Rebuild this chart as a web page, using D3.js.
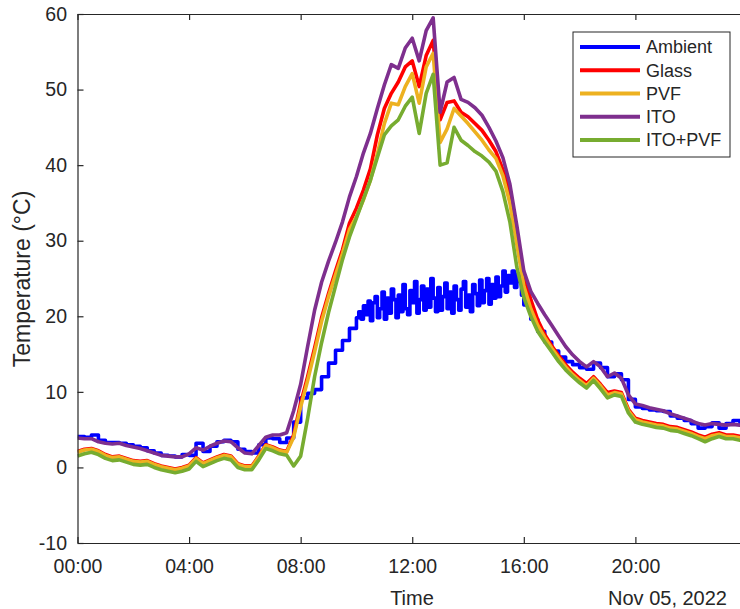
<!DOCTYPE html>
<html>
<head>
<meta charset="utf-8">
<script src="https://cdn.jsdelivr.net/npm/d3@7"></script>
<style>
  body { margin: 0; background: #fff; overflow: hidden; }
  text { font-family: "Liberation Sans", Arial, Helvetica, sans-serif; fill: #262626; }
</style>
</head>
<body>
<div id="chart"></div>
<script>
// time grid: hours after midnight, Nov 05 2022 (15 min steps)
const hours = d3.range(0, 97).map(i => i / 4);
// ambient logger was sampled faster around noon (5 min between 10:00 and 16:00)
const ambientHours = d3.range(0, 40).map(i => i / 4)
    .concat(d3.range(120, 192).map(i => i / 12))
    .concat(d3.range(64, 97).map(i => i / 4));

// temperatures (°C)
const ambient = [
    4.1, 4.0, 4.3, 3.6, 3.3, 3.3, 3.2, 3.0, 2.8, 2.6, 2.2, 1.9, 1.6, 1.5, 1.4, 1.7,
    1.6, 3.2, 2.1, 2.8, 3.4, 3.6, 3.4, 2.4, 2.1, 1.9, 3.0, 3.9, 3.8, 3.3, 3.9,
    6.0, 9.2, 9.8, 10.3, 12.0, 13.8, 15.5, 16.8, 18.4,
    // 10:00 - 15:55
    19.8, 20.6, 19.6, 21.4, 20.2, 22.0, 19.4, 21.8, 22.6, 19.8, 21.0, 23.2,
    19.6, 22.4, 20.4, 23.6, 22.2, 19.8, 22.8, 20.6, 24.2, 21.0, 20.2, 23.4,
    21.8, 24.6, 20.4, 22.2, 24.0, 20.8, 23.6, 21.2, 25.0, 22.4, 20.6, 23.8,
    20.8, 22.6, 24.4, 21.0, 23.2, 20.4, 24.0, 22.2, 20.8, 23.6, 24.6, 21.2,
    22.8, 20.6, 24.2, 23.0, 21.4, 24.8, 21.8, 23.4, 25.0, 21.6, 24.2, 22.4,
    25.2, 22.6, 24.0, 26.0, 23.2, 25.4, 24.4, 26.0, 23.8, 25.6, 24.6, 22.8,
    // 16:00 - 24:00
    21.5, 19.6, 18.0, 16.6, 15.4, 14.6, 14.0, 13.6, 13.2, 13.0, 13.8, 13.2, 12.0,
    12.4, 11.6, 9.0, 8.0, 7.8, 7.6, 7.5, 7.4, 6.8, 6.5, 6.2, 5.8, 5.2, 5.4, 5.9,
    5.2, 5.8, 6.2, 5.6, 5.6
];
const glass = [
    2.1, 2.4, 2.5, 2.2, 1.7, 1.4, 1.5, 1.2, 0.9, 0.8, 0.9, 0.5, 0.2, 0.0, -0.2, 0.0,
    0.3, 1.3, 0.6, 1.0, 1.4, 1.7, 1.5, 0.5, 0.2, 0.2, 1.5, 3.0, 2.7, 2.3, 2.1,
    4.3, 8.5, 12.0, 15.8, 19.8, 23.0, 26.0, 28.8, 32.3, 34.3, 36.7, 39.5, 44.0, 47.5,
    49.5, 51.0, 53.0, 53.8, 50.4, 54.5, 56.5, 46.0, 48.3, 48.5, 47.0, 46.4, 45.5,
    44.6, 43.3, 41.8, 39.4, 36.5, 30.5,
    25.5, 22.2, 19.5, 17.6, 16.1, 14.8, 13.6, 12.6, 11.8, 11.1, 12.0, 11.0, 9.9,
    10.1, 9.9, 7.7, 6.5, 6.2, 6.0, 5.8, 5.7, 5.4, 5.3, 5.0, 4.7, 4.3, 4.0, 4.4,
    4.6, 4.3, 4.3, 4.1, 4.1
];
const pvf = [
    2.0, 2.3, 2.4, 2.1, 1.6, 1.3, 1.4, 1.1, 0.8, 0.7, 0.8, 0.4, 0.1, -0.1, -0.3, -0.1,
    0.2, 1.2, 0.5, 0.9, 1.3, 1.6, 1.4, 0.4, 0.1, 0.1, 1.4, 2.9, 2.6, 2.2, 2.0,
    4.0, 8.0, 11.5, 15.3, 19.3, 22.6, 25.5, 28.3, 31.5, 33.2, 35.4, 38.0, 41.5, 45.5,
    48.2, 48.0, 50.4, 52.1, 48.2, 53.0, 54.8, 43.0, 44.8, 47.5, 46.5, 45.5, 44.4,
    43.3, 42.0, 40.9, 38.6, 35.0, 29.5,
    24.0, 21.0, 18.8, 17.2, 15.8, 14.5, 13.3, 12.3, 11.5, 10.8, 11.8, 10.8, 9.6,
    9.9, 9.7, 7.5, 6.3, 6.0, 5.8, 5.6, 5.5, 5.2, 5.1, 4.8, 4.5, 4.1, 3.8, 4.2,
    4.4, 4.1, 4.1, 3.9, 3.9
];
const ito = [
    3.9, 3.8, 3.8, 3.4, 3.2, 3.1, 3.2, 2.9, 2.7, 2.5, 2.2, 1.9, 1.6, 1.5, 1.4, 1.4,
    1.8, 2.6, 2.3, 2.8, 3.2, 3.5, 3.4, 2.6, 1.9, 1.8, 2.9, 4.0, 4.3, 4.3, 4.6,
    7.5, 11.0, 16.0, 20.8, 24.5, 27.3, 29.8, 32.5, 35.8, 38.5, 41.6, 44.2, 47.5, 50.6,
    53.3, 52.8, 55.5, 56.8, 53.8, 57.8, 59.5, 47.0, 51.0, 51.6, 48.7, 48.3, 47.6,
    46.6, 45.0, 43.2, 41.0, 37.5, 32.0,
    26.0, 23.3, 21.7, 20.2, 18.8, 17.4, 16.0, 14.9, 14.0, 13.3, 14.0, 13.3, 12.0,
    12.5, 11.8, 9.6, 8.4, 8.2, 7.9, 7.7, 7.5, 7.1, 6.8, 6.5, 6.2, 5.8, 5.6, 5.8,
    5.7, 5.6, 5.7, 5.6, 5.6
];
const itoPvf = [
    1.5, 1.8, 2.0, 1.7, 1.2, 0.9, 1.0, 0.7, 0.4, 0.3, 0.4, 0.0, -0.3, -0.5, -0.7, -0.5,
    -0.2, 0.8, 0.1, 0.5, 0.9, 1.2, 1.0, 0.0, -0.3, -0.3, 1.0, 2.5, 2.2, 1.8, 1.6,
    0.2, 1.5, 6.5, 12.0, 16.5, 20.5, 24.0, 27.5, 30.5, 33.0, 35.5, 38.0, 41.0, 44.0,
    45.2, 46.0, 47.8, 49.0, 44.2, 49.5, 52.0, 40.0, 40.3, 45.0, 43.3, 42.6, 41.8,
    41.2, 40.4, 39.2, 36.5, 32.5, 26.5,
    22.5, 20.0, 18.0, 16.6, 15.3, 14.0, 12.9, 12.0, 11.2, 10.5, 11.5, 10.4, 9.2,
    9.6, 9.4, 7.2, 6.0, 5.7, 5.5, 5.3, 5.2, 4.9, 4.8, 4.5, 4.2, 3.8, 3.4, 3.8,
    4.1, 3.8, 3.8, 3.6, 3.6
];

const seriesNames = ['Ambient', 'Glass', 'PVF', 'ITO', 'ITO+PVF'];
const seriesColors = ['#0000ff', '#ff0000', '#edb120', '#7e2f8e', '#77ac30'];
const yTicks = [-10, 0, 10, 20, 30, 40, 50, 60];
const xTickHours = [0, 4, 8, 12, 16, 20];

// size
const width = 740,
    height = 609;
const margin = { left: 77.5, top: 14, right: 746.5, bottom: 543 };

const day0 = new Date(2022, 10, 5, 0, 0);
const toDate = h => new Date(day0.getTime() + h * 3600 * 1000);

const x = d3.scaleTime()
    .domain([toDate(0), toDate(23 + 59 / 60)])
    .range([margin.left, margin.right]);
const y = d3.scaleLinear()
    .domain([-10, 60])
    .range([margin.bottom, margin.top]);

const svg = d3.select('#chart')
    .append('svg')
    .attr('width', width)
    .attr('height', height);

svg.append('clipPath')
    .attr('id', 'plotClip')
    .append('rect')
    .attr('x', margin.left)
    .attr('y', margin.top)
    .attr('width', margin.right - margin.left)
    .attr('height', margin.bottom - margin.top);

// series
const series = [
    { name: seriesNames[0], color: seriesColors[0], hours: ambientHours, values: ambient, curve: d3.curveStepAfter },
    { name: seriesNames[1], color: seriesColors[1], hours: hours, values: glass, curve: d3.curveLinear },
    { name: seriesNames[2], color: seriesColors[2], hours: hours, values: pvf, curve: d3.curveLinear },
    { name: seriesNames[3], color: seriesColors[3], hours: hours, values: ito, curve: d3.curveLinear },
    { name: seriesNames[4], color: seriesColors[4], hours: hours, values: itoPvf, curve: d3.curveLinear }
];

const plot = svg.append('g').attr('clip-path', 'url(#plotClip)');

plot.selectAll('.series')
    .data(series)
    .enter()
    .append('path')
    .attr('class', 'series')
    .attr('fill', 'none')
    .attr('stroke', d => d.color)
    .attr('stroke-width', 3.6)
    .attr('stroke-linejoin', 'round')
    .attr('d', d => d3.line()
        .curve(d.curve)
        .x((v, i) => x(toDate(d.hours[i])))
        .y(v => y(v))(d.values));

// axes (matlab style: ticks inside, box)
const axisColor = '#262626';
const xTickDates = xTickHours.map(toDate);

svg.append('g')
    .attr('transform', `translate(0,${margin.bottom})`)
    .call(d3.axisBottom(x)
        .tickValues(xTickDates)
        .tickFormat(d3.timeFormat('%H:%M'))
        .tickSizeInner(-6)
        .tickSizeOuter(0)
        .tickPadding(16.5));

svg.append('g')
    .attr('transform', `translate(0,${margin.top})`)
    .call(d3.axisTop(x)
        .tickValues(xTickDates)
        .tickFormat('')
        .tickSizeInner(-6)
        .tickSizeOuter(0));

svg.append('g')
    .attr('transform', `translate(${margin.left},0)`)
    .call(d3.axisLeft(y)
        .tickValues(yTicks)
        .tickFormat(d => String(d)) // plain hyphen like matlab
        .tickSizeInner(-6)
        .tickSizeOuter(0)
        .tickPadding(10.5));

svg.append('g')
    .attr('transform', `translate(${margin.right},0)`)
    .call(d3.axisRight(y)
        .tickValues(yTicks)
        .tickFormat('')
        .tickSizeInner(-6)
        .tickSizeOuter(0));

svg.selectAll('.domain, .tick line')
    .attr('stroke', axisColor)
    .attr('stroke-width', 1.2);

svg.selectAll('.tick text')
    .attr('font-family', '"Liberation Sans", Arial, sans-serif')
    .attr('font-size', 19.5)
    .attr('fill', axisColor);

// axis labels
svg.append('text')
    .attr('x', 412)
    .attr('y', 605)
    .attr('text-anchor', 'middle')
    .attr('font-size', 20)
    .text('Time');

svg.append('text')
    .attr('x', 727)
    .attr('y', 605)
    .attr('text-anchor', 'end')
    .attr('font-size', 20)
    .text(d3.timeFormat('%b %d, %Y')(day0));

svg.append('text')
    .attr('transform', 'translate(30,279) rotate(-90)')
    .attr('text-anchor', 'middle')
    .attr('font-size', 23)
    .text('Temperature (°C)');

// legend
const legend = svg.append('g')
    .attr('transform', 'translate(573,32)');

legend.append('rect')
    .attr('width', 157)
    .attr('height', 125)
    .attr('fill', '#fff')
    .attr('stroke', axisColor)
    .attr('stroke-width', 1);

const items = legend.selectAll('.item')
    .data(series)
    .enter()
    .append('g')
    .attr('class', 'item')
    .attr('transform', (d, i) => `translate(0,${15 + i * 23.25})`);

items.append('line')
    .attr('x1', 7)
    .attr('x2', 67)
    .attr('stroke', d => d.color)
    .attr('stroke-width', 4);

items.append('text')
    .attr('x', 73)
    .attr('dy', '0.36em')
    .attr('font-size', 18)
    .text(d => d.name);
</script>
</body>
</html>
